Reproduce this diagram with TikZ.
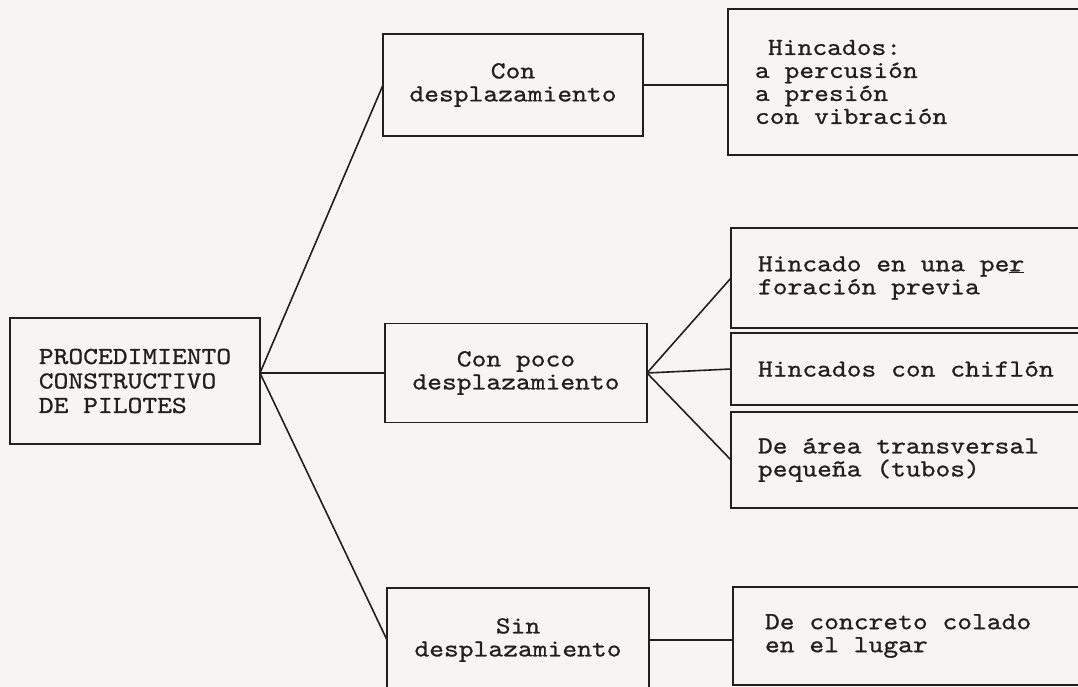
\documentclass[tikz,border=0pt]{standalone}
\usepackage{fontspec}
\newfontfamily\tw{lmmono10-regular.otf}[FakeStretch=1.15, FakeBold=0.8]
\newcommand{\twsize}[1]{\tw\fontsize{24.5}{#1}\selectfont}
\newcommand{\sk}{\hspace*{14.8pt}}
\definecolor{paper}{RGB}{246,245,243}
\definecolor{ink}{RGB}{32,32,32}
\begin{document}
\begin{tikzpicture}[x=1pt,y=-1pt,
  every node/.style={outer sep=0pt},
  bx/.style={draw=ink, line width=1.6pt, text=ink, inner sep=0pt, font=\twsize{23}},
  cbox/.style={bx, align=center},
  rbox/.style={bx, anchor=west, inner xsep=27pt, text width=330pt, align=left},
  link/.style={draw=ink, line width=1.6pt}]
\useasboundingbox (0,0) rectangle (1078,687);
\fill[paper] (0,0) rectangle (1078,687);
\begin{scope}
\clip (0,0) rectangle (1078,687);
% left column
\node[bx, minimum width=250pt, minimum height=126pt, align=left, font=\twsize{24.5}] (R) at (135,381) {PROCEDIMIENTO\\CONSTRUCTIVO\\DE\sk PILOTES};
% middle column
\node[cbox, minimum width=260pt, minimum height=102pt] (T) at (513,85) {Con\\desplazamiento};
\node[cbox, minimum width=262pt, minimum height=99pt] (M) at (516,373) {Con\sk poco\\desplazamiento};
\node[cbox, minimum width=262pt, minimum height=104pt] (S) at (518,640) {Sin\\desplazamiento};
% right column
\node[rbox, minimum height=146pt] (TR) at (728,82) {\hspace*{13pt}Hincados:\\a\sk percusión\\a\sk presión\\con\sk vibración};
\node[rbox, minimum height=100pt] (A) at (731,278) {Hincado\sk en\sk una\sk pe\underline{r}\\foración\sk previa};
\node[rbox, minimum height=72pt] (B) at (731,369) {Hincados\sk con\sk chiflón};
\node[rbox, minimum height=96pt] (C) at (731,460) {De\sk área\sk transversal\\pequeña\sk (tubos)};
\node[rbox, minimum height=98pt, inner xsep=32pt, text width=320pt] (SR) at (733,636) {De\sk concreto\sk colado\\en\sk el\sk lugar};
% connectors
\coordinate (ap) at (R.east |- M.west);
\draw[link] (ap) -- (T.west);
\draw[link] (ap) -- (M.west);
\draw[link] (ap) -- (S.west);
\draw[link] (T.east) -- (T.east -| TR.west);
\draw[link] (M.east) -- (A.west);
\draw[link] (M.east) -- (B.west);
\draw[link] (M.east) -- (C.west);
\draw[link] (S.east) -- (S.east -| SR.west);
\end{scope}
\end{tikzpicture}
\end{document}
